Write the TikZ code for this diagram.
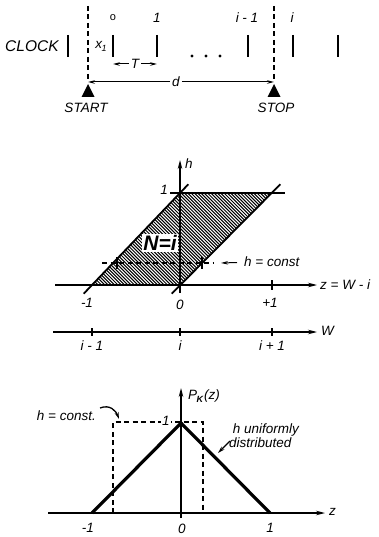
\documentclass[tikz,border=0pt]{standalone}
\usepackage{fontspec}
\setmainfont{Liberation Sans}
\usetikzlibrary{arrows.meta,calc}
\begin{document}
\begin{tikzpicture}[x=1pt,y=-1pt,
  lbl/.style={font=\itshape\fontsize{13.5}{14}\selectfont, inner sep=1pt},
  biglbl/.style={font=\itshape\fontsize{15.5}{15}\selectfont, inner sep=1pt},
  tickmk/.style={line width=2.8pt},
  axis/.style={line width=1.2pt,-{Stealth[length=9pt,width=4.5pt]}},
  dimarrow/.style={line width=1pt,-{Stealth[length=7pt,width=3.5pt]}},
  dashline/.style={line width=1.1pt,dash pattern=on 5pt off 3.5pt},
  edge/.style={line width=1.8pt},
  thickedge/.style={line width=3.2pt},
  hatchline/.style={line width=1pt},
  smalltick/.style={line width=1.1pt}]
\useasboundingbox (0,0) rectangle (378,537);

% ---------------- top: clock ----------------
\node[biglbl, anchor=west] (clock) at (4,46) {CLOCK};
\foreach \x/\n in {68/c0,113/t0,157/t1,248/t2,293/t3,338/t4}
  \draw[tickmk] (\x,35) coordinate (\n a) -- (\x,57) coordinate (\n b);
\node[lbl, font=\fontsize{11}{11}\selectfont] (l0) at (113,18) {o};
\node[lbl] (l1) at (157,18) {1};
\node[lbl] (l2) at (247,18) {i - 1};
\node[lbl] (l3) at (292,18) {i};
\node[lbl] (x1) at (101,46) {x\kern-0.5pt\raisebox{-3pt}{\fontsize{9}{9}\selectfont 1}};
\foreach \x in {192,206,220} \fill (\x,56) circle (1.7);
% T
\coordinate (Tl) at (113,64);
\coordinate (Tr) at (157,64);
\node[lbl, fill=white, inner sep=2pt] (T) at (135,64) {T};
\draw[dimarrow] (T) -- (Tl);
\draw[dimarrow] (T) -- (Tr);
% start / stop
\coordinate (sa) at (88,6);
\coordinate (sb) at (88,82);
\coordinate (pa) at (274,6);
\coordinate (pb) at (274,82);
\draw[dashline] (sa) -- (sb);
\draw[dashline] (pa) -- (pb);
\node[lbl, fill=white, inner sep=2pt] (d) at (176,82) {d};
\draw[dimarrow] (d) -- (sb);
\draw[dimarrow] (d) -- (pb);
\fill (88,84) -- (94.5,97) -- (81.5,97) -- cycle;
\fill (274,84) -- (280.5,97) -- (267.5,97) -- cycle;
\node[lbl] (start) at (86,108) {START};
\node[lbl] (stop) at (276,108) {STOP};

% ---------------- middle: parallelogram ----------------
\coordinate (A) at (92,285);
\coordinate (B) at (180,285);
\coordinate (C) at (272,193);
\coordinate (D) at (180,193);
\begin{scope}
  \clip (A) -- (B) -- (C) -- (D) -- cycle;
  \foreach \k in {0,...,90}
    \draw[hatchline] (-20+\k*3.3,180) -- ++(120,120);
\end{scope}
\draw[edge] ($(A)+(-8.3,8.7)$) -- ($(D)+(8.3,-8.7)$);
\draw[edge] ($(B)+(-8.3,8.7)$) -- ($(C)+(8.3,-8.7)$);
\draw[edge] (170,193) -- (285,193);
\draw[axis] (55,285) -- (317,285);
\draw[axis] (180,293) -- (180,160);
\draw[smalltick] (272,280) -- (272,290);
\node[lbl, anchor=west] (hlab) at (184,164) {h};
\node[lbl, anchor=east] (one) at (169,190) {1};
% h = const
\draw[dashline, line width=1.4pt] (102,263) -- (213,263);
\draw[smalltick] (117,257) -- (117,269);
\draw[smalltick] (202,257) -- (202,269);
\node[lbl, anchor=west] (hc) at (243,262) {h = const};
\coordinate (hcarr) at (221,263);
\draw[dimarrow] (hc.west) ++(-6,0.5) -- (hcarr);
\node[font=\bfseries\itshape\fontsize{21}{21}\selectfont, fill=white, inner sep=1pt] (Ni) at (160,243) {N=i};
\node[lbl] (zm1) at (87,303) {-1};
\node[lbl] (z0) at (180,305) {0};
\node[lbl] (zp1) at (270,303) {+1};
\node[lbl, anchor=west] (zlab) at (319,285) {z = W - i};

% ---------------- W axis ----------------
\draw[axis] (53,332) -- (317,332);
\foreach \x in {92,180,272} \draw[smalltick] (\x,328) -- (\x,336);
\node[lbl, anchor=west] (Wlab) at (320,331) {W};
\node[lbl] (wm) at (92,346) {i - 1};
\node[lbl] (w0) at (180,346) {i};
\node[lbl] (wp) at (272,346) {i + 1};

% ---------------- bottom: triangle ----------------
\draw[axis] (181,518) -- (181,388);
\draw[axis] (48,513) -- (325,513);
\node[lbl, anchor=west] (Plab) at (187,396) {P\kern-0.5pt\raisebox{-3pt}{\bfseries\fontsize{9}{9}\selectfont K}\kern1pt(z)};
\node[lbl, anchor=west] (zb) at (328,512) {z};
\coordinate (L) at (92,513);
\coordinate (M) at (181,423);
\coordinate (R) at (270,513);
\draw[dashline] (113,513) -- (113,422) -- (203,422) -- (203,513);
\draw[thickedge, line join=round] (L) -- (M) -- (R);
\node[lbl, fill=white, inner sep=1.5pt] (pone) at (166,421) {1};
\node[lbl, anchor=east] (hconst) at (97,416) {h = const.};
\draw[line width=1.3pt,-{Stealth[length=7pt,width=4pt]}] (hconst.east) ++(3,-8) .. controls (110,404) and (116,411) .. (119,419);
\node[lbl, anchor=west, align=left] (unif) at (228,436) {\ h uniformly\\distributed};
\draw[line width=1.3pt,-{Stealth[length=7pt,width=4pt]}] (unif.west) ++(2,5) -- (218,453);
\node[lbl] (bm1) at (88,528) {-1};
\node[lbl] (b0) at (182,529) {0};
\node[lbl] (b1) at (270,528) {1};
\end{tikzpicture}
\end{document}
